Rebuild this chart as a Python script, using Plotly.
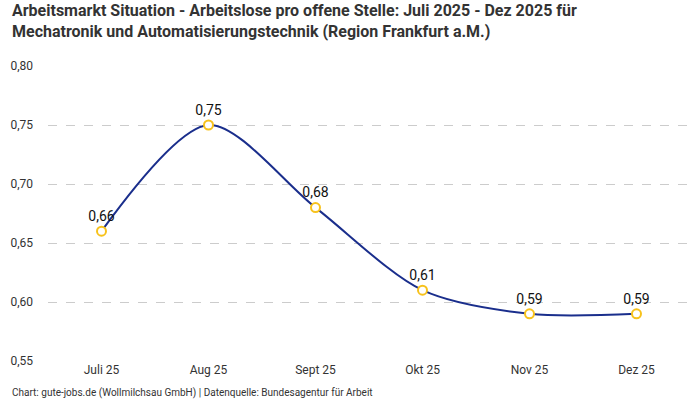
import plotly.graph_objects as go

# data
monate = ["Juli 25", "Aug 25", "Sept 25", "Okt 25", "Nov 25", "Dez 25"]
quote = [0.66, 0.75, 0.68, 0.61, 0.59, 0.59]
labels = ["0,66", "0,75", "0,68", "0,61", "0,59", "0,59"]
y_ticks = [0.55, 0.60, 0.65, 0.70, 0.75, 0.80]

titel = ("<b>Arbeitsmarkt Situation - Arbeitslose pro offene Stelle: Juli 2025 - Dez 2025 für<br>"
         "Mechatronik und Automatisierungstechnik (Region Frankfurt a.M.)</b>")
quelle = "Chart: gute-jobs.de (Wollmilchsau GmbH) | Datenquelle: Bundesagentur für Arbeit"

font = "Roboto, sans-serif"

fig = go.Figure()
fig.add_trace(go.Scatter(
    x=monate, y=quote, mode="lines+markers+text",
    text=labels, textposition="top center",
    textfont=dict(size=14, color="#111111", family=font),
    line=dict(color="#1a2e8c", width=2, shape="spline", smoothing=0.85),
    marker=dict(size=9, color="white", line=dict(color="#f7c21c", width=2)),
    cliponaxis=False, hoverinfo="skip",
))

fig.update_layout(
    width=700, height=400,
    margin=dict(l=48, r=10, t=66, b=39),
    paper_bgcolor="white", plot_bgcolor="white",
    separators=",.",
    showlegend=False,
    font=dict(family=font, color="#333333"),
)
fig.update_xaxes(range=[-0.5, 5.5], showgrid=False, showline=False, zeroline=False,
                 ticks="", tickfont=dict(size=12, color="#333333"))
fig.update_yaxes(range=[0.55, 0.80], tickvals=y_ticks, tickformat=".2f",
                 showgrid=True, gridcolor="#cccccc", griddash="dash", gridwidth=1,
                 zeroline=False, showline=False, ticks="", ticklabelstandoff=14,
                 tickfont=dict(size=12, color="#333333"))

# titel als annotation, der normale titel rutscht bei 2 zeilen nach oben raus
fig.add_annotation(text=titel, xref="paper", yref="paper", x=-0.059, y=1.153,
                   xanchor="left", yanchor="middle", align="left", showarrow=False,
                   font=dict(size=16, color="#333333", family=font))
fig.add_annotation(text=quelle, xref="paper", yref="paper", x=-0.059, y=-0.108,
                   xanchor="left", yanchor="middle", showarrow=False,
                   font=dict(size=10, color="#333333", family=font))

# body margin weg, sonst ist alles um 8px verschoben
fig.write_html("out.html", config={"displayModeBar": False},
               post_script="document.body.style.margin='0';")
